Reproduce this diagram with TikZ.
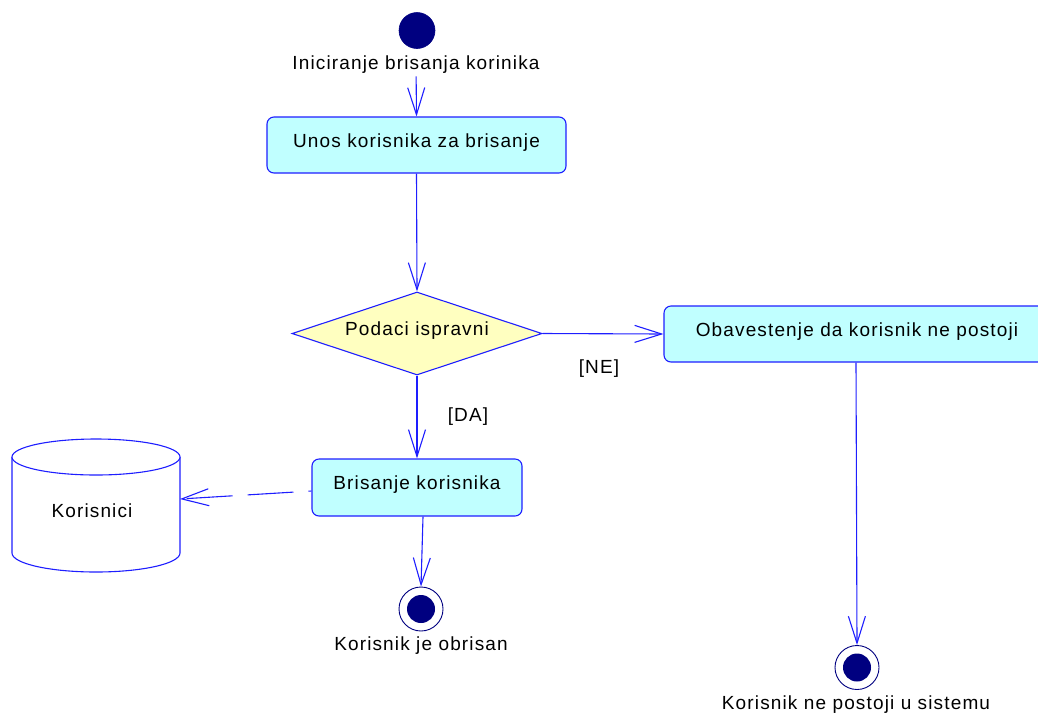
\documentclass[tikz,border=0pt]{standalone}
\usepackage{fontspec}
\setmainfont{Liberation Sans}[LetterSpace=6]
\usetikzlibrary{arrows.meta,shapes.geometric}
\definecolor{umlblue}{RGB}{30,30,255}
\definecolor{navy}{RGB}{0,0,128}
\definecolor{actfill}{RGB}{192,255,255}
\definecolor{decfill}{RGB}{255,255,192}
\begin{document}
\begin{tikzpicture}[x=1pt,y=-1pt,
  every node/.style={font=\fontsize{19}{22}\selectfont, text=black},
  flow/.style={draw=umlblue, line width=1.1pt, -{Straight Barb[length=27pt,width=17pt]}},
  activity/.style={rectangle, draw=umlblue, fill=actfill, rounded corners=7pt, line width=1.1pt,
    inner sep=0pt, text height=12.5pt, text depth=8pt},
  decision/.style={diamond, aspect=3, draw=umlblue, fill=decfill, line width=1.1pt,
    inner sep=0pt, text height=12.5pt, text depth=8pt},
  startstate/.style={circle, fill=navy, draw=navy, line width=0.6pt, minimum size=36pt, inner sep=0pt},
  endstate/.style={circle, draw=navy, fill=white, line width=0.9pt, minimum size=44pt, inner sep=0pt,
    path picture={\fill[navy] (path picture bounding box.center) circle (14pt);}},
  caption/.style={anchor=base},
  storeline/.style={draw=umlblue, line width=1.1pt}
]
\useasboundingbox (0,0) rectangle (1038,713);
\clip (0,0) rectangle (1038,713);

% states and activities
\node[startstate] (start) at (417,30.5) {};
\node[caption] (startlbl) at (416,69) {Iniciranje brisanja korinika};
\node[activity, minimum width=299pt, minimum height=56pt] (enter) at (416.5,145) {Unos korisnika za brisanje};
\node[decision, minimum width=250pt, minimum height=83pt] (check) at (417,333.5) {Podaci ispravni};
\node[activity, minimum width=386pt, minimum height=56pt] (notify) at (857,334) {Obavestenje da korisnik ne postoji};
\node[activity, minimum width=210pt, minimum height=57pt] (remove) at (417,487.5) {Brisanje korisnika};
\node[endstate] (endok) at (421,609) {};
\node[caption] (endoklbl) at (421,650) {Korisnik je obrisan};
\node[endstate] (endmiss) at (857,667.5) {};
\node[caption] (endmisslbl) at (856,709) {Korisnik ne postoji u sistemu};

% data store
\draw[storeline, fill=white] (12,457) -- (12,553) arc[start angle=180, end angle=0, x radius=84, y radius=19] -- (180,457);
\draw[storeline, fill=white] (96,457) ellipse [x radius=84, y radius=18];
\node[caption] (store) at (92,517) {Korisnici};
\coordinate (storeport) at (180,499);

% transitions
\draw[flow] (startlbl) -- (enter.north);
\draw[flow] (enter.south) -- (check.north);
\draw[flow] (check.east) -- (notify.west);
\draw[flow] (check.south) -- (remove.north);
\draw[flow] ([xshift=6pt]remove.south) -- (endok.north);
\draw[flow] ([xshift=-1pt]notify.south) -- (endmiss.north);
\draw[flow, dash pattern=on 46pt off 15pt, dash phase=43pt] ([yshift=-3.5pt]remove.west) -- (storeport);

% guards
\node[caption] (guardno) at (599,373) {[NE]};
\node[caption] (guardyes) at (468,421) {[DA]};
\end{tikzpicture}
\end{document}
